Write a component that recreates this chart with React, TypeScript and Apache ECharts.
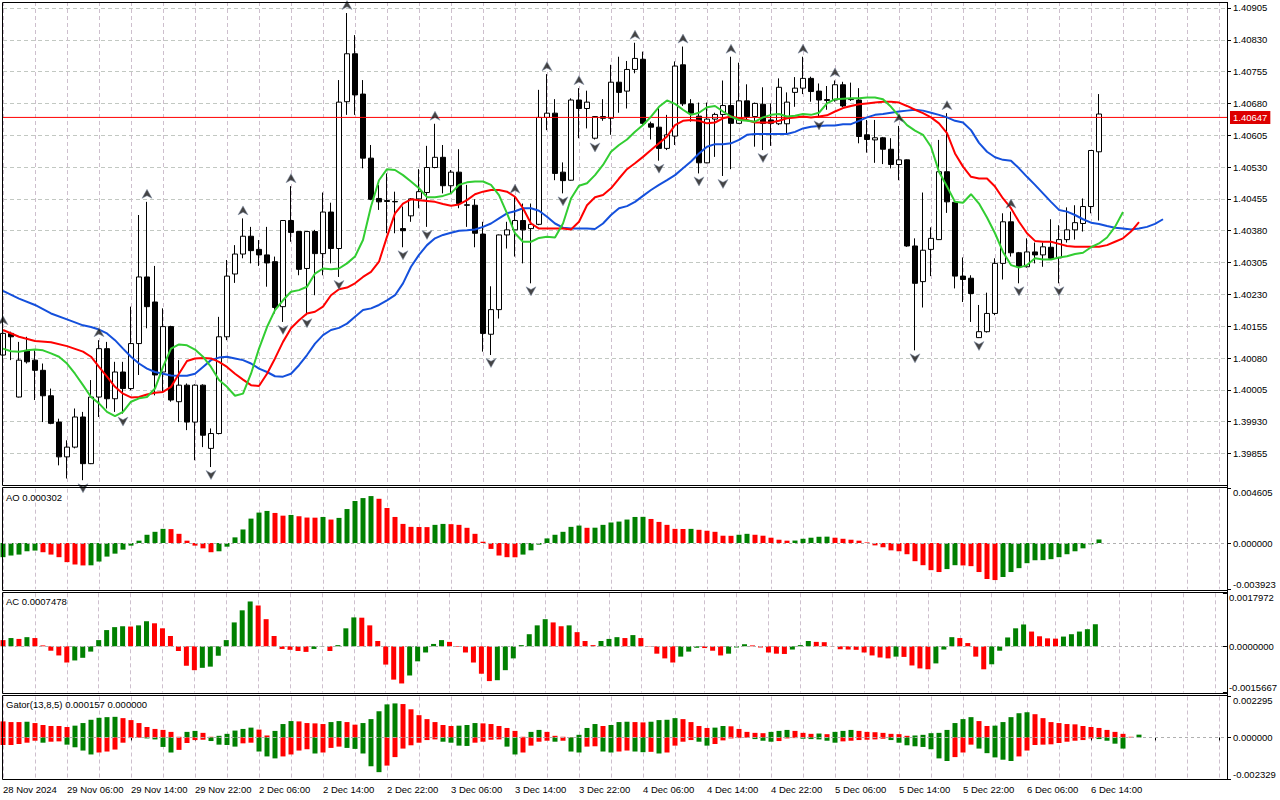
import React, { useEffect, useRef } from 'react';
import * as echarts from 'echarts';

// ---------- DATA ----------
const tickLabels = ['28 Nov 2024', '29 Nov 06:00', '29 Nov 14:00', '29 Nov 22:00', '2 Dec 06:00', '2 Dec 14:00', '2 Dec 22:00', '3 Dec 06:00', '3 Dec 14:00', '3 Dec 22:00', '4 Dec 06:00', '4 Dec 14:00', '4 Dec 22:00', '5 Dec 06:00', '5 Dec 14:00', '5 Dec 22:00', '6 Dec 06:00', '6 Dec 14:00'];

const opens = [
  1.40087, 1.40138, 1.39988, 1.40098, 1.40075, 1.40051, 1.39991, 1.39929, 1.39847, 1.39870,
  1.39941, 1.39831, 1.39988, 1.40102, 1.39984, 1.40047, 1.40008, 1.40114, 1.40271, 1.40212,
  1.40047, 1.40154, 1.39977, 1.40016, 1.39929, 1.40016, 1.39867, 1.39902, 1.40130, 1.40278,
  1.40325, 1.40367, 1.40336, 1.40323, 1.40307, 1.40201, 1.40404, 1.40378, 1.40291, 1.40378,
  1.40326, 1.40424, 1.40338, 1.40684, 1.40797, 1.40702, 1.40551, 1.40456, 1.40451, 1.40449,
  1.40385, 1.40415, 1.40455, 1.40470, 1.40529, 1.40553, 1.40486, 1.40518, 1.40441, 1.40440,
  1.40372, 1.40136, 1.40194, 1.40370, 1.40382, 1.40404, 1.40385, 1.40395, 1.40647, 1.40657,
  1.40518, 1.40499, 1.40688, 1.40668, 1.40598, 1.40649, 1.40645, 1.40730, 1.40709, 1.40760,
  1.40784, 1.40632, 1.40624, 1.40574, 1.40603, 1.40771, 1.40679, 1.40650, 1.40540, 1.40643,
  1.40654, 1.40675, 1.40633, 1.40686, 1.40649, 1.40678, 1.40641, 1.40632, 1.40632, 1.40706,
  1.40716, 1.40739, 1.40709, 1.40689, 1.40688, 1.40724, 1.40690, 1.40688, 1.40606, 1.40594,
  1.40599, 1.40572, 1.40536, 1.40547, 1.40344, 1.40260, 1.40336, 1.40359, 1.40519, 1.40447,
  1.40273, 1.40268, 1.40128, 1.40142, 1.40185, 1.40303, 1.40401, 1.40328, 1.40295, 1.40330,
  1.40323, 1.40341, 1.40316, 1.40359, 1.40382, 1.40397, 1.40437, 1.40566,
];
const highs = [
  1.40150, 1.40142, 1.40118, 1.40130, 1.40098, 1.40067, 1.40008, 1.39937, 1.39886, 1.39961,
  1.39953, 1.40028, 1.40122, 1.40118, 1.40071, 1.40071, 1.40201, 1.40417, 1.40448, 1.40297,
  1.40197, 1.40156, 1.40075, 1.40020, 1.40018, 1.40018, 1.39914, 1.40177, 1.40311, 1.40346,
  1.40409, 1.40389, 1.40358, 1.40389, 1.40319, 1.40405, 1.40485, 1.40379, 1.40379, 1.40382,
  1.40470, 1.40446, 1.40735, 1.40893, 1.40841, 1.40735, 1.40582, 1.40488, 1.40515, 1.40472,
  1.40437, 1.40457, 1.40525, 1.40580, 1.40632, 1.40582, 1.40523, 1.40572, 1.40488, 1.40454,
  1.40401, 1.40249, 1.40371, 1.40401, 1.40460, 1.40444, 1.40444, 1.40712, 1.40749, 1.40690,
  1.40541, 1.40692, 1.40716, 1.40710, 1.40650, 1.40690, 1.40771, 1.40790, 1.40780, 1.40823,
  1.40802, 1.40637, 1.40670, 1.40653, 1.40779, 1.40814, 1.40690, 1.40682, 1.40682, 1.40658,
  1.40734, 1.40790, 1.40776, 1.40725, 1.40682, 1.40718, 1.40680, 1.40739, 1.40706, 1.40742,
  1.40790, 1.40743, 1.40727, 1.40721, 1.40734, 1.40731, 1.40729, 1.40716, 1.40641, 1.40641,
  1.40601, 1.40598, 1.40627, 1.40548, 1.40362, 1.40470, 1.40388, 1.40594, 1.40657, 1.40448,
  1.40317, 1.40275, 1.40205, 1.40234, 1.40315, 1.40421, 1.40425, 1.40330, 1.40362, 1.40352,
  1.40352, 1.40407, 1.40393, 1.40435, 1.40440, 1.40456, 1.40570, 1.40702,
];
const lows = [
  1.40079, 1.40075, 1.39987, 1.40067, 1.39981, 1.39929, 1.39924, 1.39827, 1.39796, 1.39867,
  1.39792, 1.39830, 1.39941, 1.39961, 1.39953, 1.39949, 1.40004, 1.40040, 1.40150, 1.39992,
  1.40000, 1.39977, 1.39929, 1.39910, 1.39839, 1.39870, 1.39823, 1.39900, 1.40122, 1.40257,
  1.40315, 1.40303, 1.40297, 1.40248, 1.40185, 1.40165, 1.40354, 1.40275, 1.40181, 1.40228,
  1.40275, 1.40303, 1.40271, 1.40653, 1.40653, 1.40527, 1.40452, 1.40429, 1.40374, 1.40374,
  1.40341, 1.40401, 1.40433, 1.40389, 1.40527, 1.40468, 1.40468, 1.40433, 1.40389, 1.40341,
  1.40095, 1.40087, 1.40173, 1.40338, 1.40319, 1.40303, 1.40256, 1.40393, 1.40617, 1.40499,
  1.40468, 1.40498, 1.40598, 1.40621, 1.40595, 1.40639, 1.40606, 1.40658, 1.40668, 1.40751,
  1.40629, 1.40595, 1.40545, 1.40570, 1.40582, 1.40674, 1.40637, 1.40515, 1.40539, 1.40554,
  1.40509, 1.40525, 1.40632, 1.40641, 1.40578, 1.40570, 1.40580, 1.40629, 1.40610, 1.40672,
  1.40702, 1.40684, 1.40647, 1.40665, 1.40684, 1.40671, 1.40686, 1.40586, 1.40564, 1.40540,
  1.40537, 1.40527, 1.40499, 1.40342, 1.40098, 1.40199, 1.40273, 1.40358, 1.40422, 1.40244,
  1.40212, 1.40165, 1.40127, 1.40140, 1.40181, 1.40265, 1.40319, 1.40256, 1.40293, 1.40303,
  1.40295, 1.40313, 1.40256, 1.40352, 1.40359, 1.40378, 1.40421, 1.40404,
];
const closes = [
  1.40138, 1.40130, 1.40075, 1.40071, 1.40051, 1.39991, 1.39926, 1.39847, 1.39870, 1.39941,
  1.39831, 1.39988, 1.40102, 1.39984, 1.40047, 1.40008, 1.40114, 1.40271, 1.40201, 1.40040,
  1.40154, 1.39981, 1.40016, 1.39929, 1.40016, 1.39898, 1.39902, 1.40130, 1.40273, 1.40325,
  1.40367, 1.40333, 1.40323, 1.40304, 1.40199, 1.40404, 1.40376, 1.40289, 1.40378, 1.40326,
  1.40424, 1.40338, 1.40683, 1.40797, 1.40700, 1.40551, 1.40454, 1.40448, 1.40449, 1.40448,
  1.40380, 1.40455, 1.40472, 1.40529, 1.40553, 1.40486, 1.40518, 1.40444, 1.40440, 1.40374,
  1.40138, 1.40194, 1.40370, 1.40382, 1.40404, 1.40382, 1.40395, 1.40647, 1.40657, 1.40515,
  1.40498, 1.40688, 1.40668, 1.40683, 1.40649, 1.40645, 1.40730, 1.40706, 1.40760, 1.40786,
  1.40633, 1.40624, 1.40574, 1.40606, 1.40768, 1.40679, 1.40657, 1.40540, 1.40643, 1.40654,
  1.40675, 1.40633, 1.40686, 1.40649, 1.40680, 1.40633, 1.40633, 1.40718, 1.40683, 1.40716,
  1.40739, 1.40708, 1.40688, 1.40687, 1.40724, 1.40674, 1.40689, 1.40602, 1.40595, 1.40599,
  1.40572, 1.40536, 1.40547, 1.40344, 1.40256, 1.40334, 1.40362, 1.40519, 1.40448, 1.40273,
  1.40265, 1.40232, 1.40142, 1.40185, 1.40303, 1.40401, 1.40328, 1.40295, 1.40330, 1.40323,
  1.40342, 1.40315, 1.40359, 1.40382, 1.40399, 1.40437, 1.40569, 1.40655,
];

const upFractals = [0, 12, 18, 30, 36, 43, 54, 64, 68, 72, 79, 85, 91, 100, 104, 112, 118, 126];
const downFractals = [10, 15, 26, 35, 38, 42, 50, 53, 61, 66, 70, 74, 82, 87, 90, 95, 102, 114, 122, 127, 132];

const currentPrice = 1.40647;

// Alligator lines: [bar index, price]
const jaw = [[0,1.40238],[2,1.40220],[4,1.40205],[6,1.40185],[8,1.40171],[10,1.40157],[11,1.40153],[12,1.40147],[13,1.40138],[14,1.40122],[15,1.40102],[16,1.40083],[17,1.40067],[18,1.40055],[19,1.40047],[20,1.40043],[21,1.40039],[22,1.40038],[23,1.40038],[24,1.40043],[25,1.40059],[26,1.40075],[27,1.40081],[28,1.40083],[29,1.40079],[30,1.40075],[31,1.40067],[32,1.40055],[33,1.40047],[34,1.40037],[35,1.40036],[36,1.40043],[37,1.40063],[38,1.40087],[39,1.40114],[40,1.40134],[41,1.40146],[42,1.40151],[43,1.40161],[44,1.40177],[45,1.40193],[46,1.40197],[47,1.40205],[48,1.40216],[49,1.40228],[50,1.40256],[51,1.40295],[52,1.40323],[53,1.40346],[54,1.40362],[55,1.40370],[56,1.40375],[57,1.40380],[58,1.40381],[59,1.40383],[60,1.40389],[61,1.40397],[62,1.40409],[63,1.40421],[64,1.40426],[65,1.40433],[66,1.40433],[67,1.40427],[68,1.40413],[69,1.40397],[70,1.40387],[71,1.40385],[72,1.40385],[73,1.40385],[74,1.40384],[75,1.40397],[76,1.40417],[77,1.40433],[78,1.40438],[79,1.40448],[80,1.40462],[81,1.40476],[82,1.40488],[83,1.40499],[84,1.40511],[85,1.40527],[86,1.40543],[87,1.40562],[88,1.40578],[89,1.40584],[90,1.40584],[91,1.40586],[92,1.40594],[93,1.40606],[94,1.40608],[95,1.40608],[96,1.40608],[97,1.40608],[98,1.40608],[99,1.40613],[100,1.40621],[101,1.40625],[102,1.40627],[103,1.40628],[104,1.40628],[105,1.40631],[106,1.40631],[107,1.40639],[108,1.40647],[109,1.40653],[110,1.40655],[111,1.40658],[112,1.40661],[113,1.40663],[114,1.40665],[115,1.40663],[116,1.40658],[117,1.40653],[118,1.40647],[119,1.40639],[120,1.40635],[121,1.40617],[122,1.40587],[123,1.40566],[124,1.40553],[125,1.40547],[126,1.40545],[127,1.40527],[128,1.40507],[129,1.40488],[130,1.40468],[131,1.40448],[132,1.40429],[133,1.40425],[134,1.40417],[135,1.40407],[136,1.40399],[137,1.40396],[138,1.40391],[139,1.40387],[140,1.40385],[141,1.40383],[142,1.40385],[143,1.40389],[144,1.40396],[145,1.40407]];
const teeth = [[0,1.40146],[2,1.40130],[4,1.40120],[6,1.40117],[8,1.40108],[10,1.40095],[11,1.40083],[12,1.40059],[13,1.40036],[14,1.40012],[15,1.39996],[16,1.39987],[17,1.39988],[18,1.39994],[19,1.39998],[20,1.40000],[21,1.40012],[22,1.40043],[23,1.40073],[24,1.40079],[25,1.40080],[26,1.40079],[27,1.40071],[28,1.40059],[29,1.40043],[30,1.40029],[31,1.40016],[32,1.40014],[33,1.40043],[34,1.40079],[35,1.40118],[36,1.40150],[37,1.40169],[38,1.40185],[39,1.40189],[40,1.40201],[41,1.40228],[42,1.40242],[43,1.40246],[44,1.40256],[45,1.40271],[46,1.40283],[47,1.40307],[48,1.40366],[49,1.40421],[50,1.40444],[51,1.40454],[52,1.40452],[53,1.40450],[54,1.40448],[55,1.40443],[56,1.40439],[57,1.40442],[58,1.40452],[59,1.40466],[60,1.40472],[61,1.40476],[62,1.40476],[63,1.40472],[64,1.40460],[65,1.40433],[66,1.40397],[67,1.40385],[68,1.40385],[69,1.40385],[70,1.40385],[71,1.40383],[72,1.40401],[73,1.40440],[74,1.40459],[75,1.40464],[76,1.40480],[77,1.40503],[78,1.40525],[79,1.40539],[80,1.40554],[81,1.40570],[82,1.40586],[83,1.40602],[84,1.40629],[85,1.40639],[86,1.40641],[87,1.40639],[88,1.40633],[89,1.40635],[90,1.40645],[91,1.40649],[92,1.40645],[93,1.40641],[94,1.40635],[95,1.40635],[96,1.40635],[97,1.40639],[98,1.40645],[99,1.40647],[100,1.40649],[101,1.40647],[102,1.40649],[103,1.40652],[104,1.40661],[105,1.40669],[106,1.40674],[107,1.40678],[108,1.40680],[109,1.40682],[110,1.40684],[111,1.40684],[112,1.40682],[113,1.40674],[114,1.40665],[115,1.40657],[116,1.40647],[117,1.40633],[118,1.40610],[119,1.40562],[120,1.40531],[121,1.40507],[122,1.40503],[123,1.40503],[124,1.40484],[125,1.40456],[126,1.40433],[127,1.40401],[128,1.40374],[129,1.40356],[130,1.40354],[131,1.40354],[132,1.40349],[133,1.40344],[134,1.40342],[135,1.40342],[136,1.40342],[137,1.40342],[138,1.40346],[139,1.40354],[140,1.40362],[141,1.40378],[142,1.40400]];
const lips = [[0,1.40102],[1,1.40096],[2,1.40095],[3,1.40098],[4,1.40100],[5,1.40098],[6,1.40091],[7,1.40083],[8,1.40067],[9,1.40043],[10,1.40016],[11,1.39988],[12,1.39973],[13,1.39953],[14,1.39943],[15,1.39953],[16,1.39977],[17,1.39985],[18,1.39988],[19,1.40008],[20,1.40059],[21,1.40102],[22,1.40112],[23,1.40110],[24,1.40100],[25,1.40083],[26,1.40059],[27,1.40028],[28,1.40012],[29,1.39991],[30,1.39996],[31,1.40043],[32,1.40102],[33,1.40153],[34,1.40193],[35,1.40216],[36,1.40236],[37,1.40240],[38,1.40248],[39,1.40279],[40,1.40291],[41,1.40289],[42,1.40291],[43,1.40303],[44,1.40319],[45,1.40358],[46,1.40437],[47,1.40499],[48,1.40525],[49,1.40523],[50,1.40511],[51,1.40496],[52,1.40480],[53,1.40459],[54,1.40459],[55,1.40462],[56,1.40468],[57,1.40488],[58,1.40494],[59,1.40496],[60,1.40496],[61,1.40488],[62,1.40464],[63,1.40421],[64,1.40374],[65,1.40354],[66,1.40354],[67,1.40363],[68,1.40366],[69,1.40364],[70,1.40397],[71,1.40456],[72,1.40486],[73,1.40492],[74,1.40511],[75,1.40535],[76,1.40566],[77,1.40582],[78,1.40595],[79,1.40613],[80,1.40629],[81,1.40649],[82,1.40672],[83,1.40687],[84,1.40679],[85,1.40665],[86,1.40653],[87,1.40658],[88,1.40671],[89,1.40674],[90,1.40661],[91,1.40649],[92,1.40641],[93,1.40639],[94,1.40637],[95,1.40647],[96,1.40653],[97,1.40655],[98,1.40649],[99,1.40651],[100,1.40655],[101,1.40653],[102,1.40658],[103,1.40680],[104,1.40690],[105,1.40691],[106,1.40692],[107,1.40692],[108,1.40694],[109,1.40694],[110,1.40690],[111,1.40672],[112,1.40650],[113,1.40629],[114,1.40616],[115,1.40606],[116,1.40578],[117,1.40519],[118,1.40484],[119,1.40448],[120,1.40446],[121,1.40466],[122,1.40444],[123,1.40411],[124,1.40374],[125,1.40330],[126,1.40299],[127,1.40293],[128,1.40299],[129,1.40315],[130,1.40312],[131,1.40312],[132,1.40317],[133,1.40320],[134,1.40325],[135,1.40328],[136,1.40341],[137,1.40350],[138,1.40364],[139,1.40389],[140,1.40424]];

const aoValues = [
  -0.00120, -0.00106, -0.00098, -0.00070, -0.00064, -0.00078, -0.00098, -0.00120, -0.00162, -0.00182,
  -0.00190, -0.00189, -0.00157, -0.00115, -0.00090, -0.00056, -0.00022, 0.00020, 0.00070, 0.00095,
  0.00120, 0.00118, 0.00078, 0.00020, -0.00022, -0.00045, -0.00078, -0.00070, -0.00031, 0.00048,
  0.00115, 0.00207, 0.00258, 0.00272, 0.00255, 0.00232, 0.00238, 0.00227, 0.00216, 0.00215,
  0.00221, 0.00199, 0.00213, 0.00288, 0.00356, 0.00381, 0.00398, 0.00375, 0.00297, 0.00221,
  0.00162, 0.00137, 0.00136, 0.00135, 0.00154, 0.00162, 0.00160, 0.00154, 0.00129, 0.00078,
  0.00011, -0.00050, -0.00106, -0.00120, -0.00121, -0.00098, -0.00062, -0.00014, 0.00039, 0.00070,
  0.00095, 0.00137, 0.00148, 0.00129, 0.00130, 0.00154, 0.00174, 0.00182, 0.00199, 0.00221,
  0.00222, 0.00204, 0.00179, 0.00154, 0.00120, 0.00119, 0.00120, 0.00112, 0.00104, 0.00095,
  0.00062, 0.00061, 0.00070, 0.00078, 0.00070, 0.00062, 0.00045, 0.00028, 0.00020, 0.00021,
  0.00036, 0.00045, 0.00053, 0.00054, 0.00045, 0.00036, 0.00028, 0.00020, 0.00005, -0.00020,
  -0.00036, -0.00062, -0.00070, -0.00095, -0.00154, -0.00188, -0.00230, -0.00246, -0.00221, -0.00188,
  -0.00190, -0.00196, -0.00246, -0.00305, -0.00314, -0.00288, -0.00246, -0.00213, -0.00171, -0.00146,
  -0.00145, -0.00137, -0.00120, -0.00095, -0.00070, -0.00045, -0.00011, 0.000302,
];
const acValues = [
  0.00021, 0.00028, 0.00025, 0.00031, 0.00028, 0.00003, -0.00015, -0.00031, -0.00055, -0.00048,
  -0.00039, -0.00018, 0.00021, 0.00055, 0.00065, 0.00068, 0.00067, 0.00071, 0.00085, 0.00078,
  0.00061, 0.00035, -0.00016, -0.00066, -0.00081, -0.00073, -0.00069, -0.00032, 0.00021, 0.00081,
  0.00122, 0.00152, 0.00138, 0.00092, 0.00035, -0.00009, -0.00012, -0.00016, -0.00019, -0.00009,
  -0.00001, -0.00016, 0.00004, 0.00061, 0.00098, 0.00097, 0.00071, 0.00018, -0.00062, -0.00113,
  -0.00126, -0.00099, -0.00051, -0.00021, 0.00008, 0.00021, 0.00015, -0.00002, -0.00021, -0.00055,
  -0.00093, -0.00118, -0.00115, -0.00081, -0.00041, 0.00004, 0.00041, 0.00071, 0.00092, 0.00081,
  0.00068, 0.00071, 0.00048, 0.00018, 0.00004, 0.00018, 0.00025, 0.00031, 0.00028, 0.00038,
  0.00028, -0.00001, -0.00025, -0.00041, -0.00055, -0.00035, -0.00018, -0.00005, -0.00006, -0.00015,
  -0.00031, -0.00025, -0.00004, 0.00007, 0.00003, -0.00004, -0.00021, -0.00025, -0.00026, -0.00011,
  0.00004, 0.00018, 0.00015, 0.00014, -0.00001, -0.00010, -0.00011, -0.00012, -0.00021, -0.00031,
  -0.00038, -0.00041, -0.00035, -0.00036, -0.00065, -0.00075, -0.00078, -0.00058, -0.00011, 0.00031,
  0.00028, 0.00011, -0.00035, -0.00078, -0.00061, -0.00015, 0.00030, 0.00061, 0.00074, 0.00050,
  0.00034, 0.00027, 0.00026, 0.00033, 0.00041, 0.00050, 0.00058, 0.0007478,
];
const gatorUp = [
  0.000899, 0.000862, 0.000862, 0.000881, 0.000807, 0.000697, 0.000642, 0.000642, 0.000587, 0.000661,
  0.000807, 0.000991, 0.001101, 0.001138, 0.001156, 0.001083, 0.000973, 0.000807, 0.000587, 0.000477,
  0.000422, 0.000312, 0.000037, 0.000312, 0.000367, 0.000257, 0.000037, 0.000092, 0.000202, 0.000385,
  0.000477, 0.000551, 0.000440, 0.000110, 0.000367, 0.000752, 0.000918, 0.000899, 0.000807, 0.000789,
  0.000752, 0.000862, 0.000918, 0.000862, 0.000716, 0.000807, 0.001028, 0.001468, 0.001853, 0.001908,
  0.001872, 0.001578, 0.001248, 0.001028, 0.000862, 0.000697, 0.000642, 0.000661, 0.000697, 0.000807,
  0.000789, 0.000752, 0.000642, 0.000532, 0.000367, 0.000037, 0.000312, 0.000422, 0.000312, 0.000092,
  0.000037, 0.000018, 0.000147, 0.000532, 0.000752, 0.000642, 0.000697, 0.000862, 0.000881, 0.000862,
  0.000844, 0.000881, 0.000973, 0.000991, 0.001083, 0.001028, 0.000862, 0.000642, 0.000532, 0.000551,
  0.000642, 0.000624, 0.000477, 0.000312, 0.000257, 0.000239, 0.000312, 0.000367, 0.000422, 0.000367,
  0.000257, 0.000202, 0.000220, 0.000184, 0.000312, 0.000367, 0.000422, 0.000367, 0.000312, 0.000294,
  0.000257, 0.000202, 0.000184, 0.000092, 0.000110, 0.000147, 0.000239, 0.000257, 0.000422, 0.000807,
  0.001028, 0.001138, 0.000918, 0.000642, 0.000661, 0.000862, 0.001138, 0.001358, 0.001413, 0.001303,
  0.001083, 0.000862, 0.000807, 0.000752, 0.000734, 0.000642, 0.000587, 0.000532, 0.000422, 0.000312,
  0.000202, 0.000037, 0.000157,
];
const gatorDown = [
  -0.000422, -0.000422, -0.000367, -0.000294, -0.000184, -0.000294, -0.000239, -0.000220, -0.000404, -0.000551,
  -0.000734, -0.000954, -0.000844, -0.000789, -0.000679, -0.000294, -0.000037, -0.000018, -0.000055, -0.000110,
  -0.000532, -0.000844, -0.000697, -0.000312, -0.000147, -0.000128, -0.000202, -0.000404, -0.000422, -0.000514,
  -0.000330, -0.000294, -0.000789, -0.001064, -0.001174, -0.001064, -0.000954, -0.000734, -0.000661, -0.000899,
  -0.000844, -0.000587, -0.000514, -0.000587, -0.000642, -0.000899, -0.001615, -0.001945, -0.001578, -0.001101,
  -0.000624, -0.000440, -0.000294, -0.000147, -0.000110, -0.000239, -0.000294, -0.000459, -0.000477, -0.000294,
  -0.000239, -0.000128, -0.000110, -0.000514, -0.000954, -0.000844, -0.000459, -0.000239, -0.000184, -0.000239,
  -0.000184, -0.000789, -0.000844, -0.000514, -0.000495, -0.000789, -0.000844, -0.000789, -0.000734, -0.000789,
  -0.000826, -0.000807, -0.000899, -0.000844, -0.000459, -0.000239, -0.000147, -0.000239, -0.000459, -0.000367,
  -0.000165, -0.000055, -0.000037, -0.000018, -0.000092, -0.000184, -0.000239, -0.000202, -0.000055, -0.000037,
  -0.000073, -0.000092, -0.000110, -0.000184, -0.000294, -0.000220, -0.000184, -0.000147, -0.000128, -0.000110,
  -0.000073, -0.000147, -0.000294, -0.000440, -0.000495, -0.000532, -0.000661, -0.001174, -0.001321, -0.001101,
  -0.000844, -0.000404, -0.000624, -0.000881, -0.001119, -0.001248, -0.001321, -0.001064, -0.000734, -0.000422,
  -0.000404, -0.000385, -0.000312, -0.000239, -0.000184, -0.000147, -0.000055, -0.000092, -0.000184, -0.000349,
  -0.000624,
];

const aoRange = [-0.003923, 0.004605];
const acRange = [-0.0015667, 0.0017972];
const gatorRange = [-0.002329, 0.002295];
const priceRange = [1.3978, 1.40919];

// ---------- STYLE ----------
const FONT = 'Liberation Sans, Arial, sans-serif';
const FS = 9.5;
const GREEN = '#008000';
const RED = '#ff0000';
const GRID_V = '#cdbfcd';
const GRID_H = '#c2c8c2';
const N_SLOTS = 154;
const FRACTAL_PATH = 'path://M5,0 L10,10 L5,7 L0,10 Z';

const trendColors = (vals: number[], first: string, rising: (v: number, p: number) => boolean) =>
  vals.map((v, i) => (i === 0 ? first : rising(v, vals[i - 1]) ? GREEN : RED));

function oscAxis(gridIndex: number, range: number[], digits: number) {
  const [mn, mx] = range;
  return {
    type: 'value',
    gridIndex,
    position: 'right',
    min: mn,
    max: mx,
    axisLine: { show: false },
    splitLine: { show: false },
    axisTick: { show: true, length: 4, customValues: [mn, 0, mx], lineStyle: { color: '#000' } },
    axisLabel: {
      customValues: [mn, 0, mx],
      margin: 6,
      color: '#000',
      fontSize: FS,
      fontFamily: FONT,
      formatter: (v: number) => {
        if (Math.abs(v - mx) < 1e-10) return `{t|${mx.toFixed(digits)}}`;
        if (Math.abs(v - mn) < 1e-10) return `{b|${mn.toFixed(digits)}}`;
        return `{m|${(0).toFixed(digits)}}`;
      },
      rich: {
        t: { padding: [8, 0, 0, 0], fontSize: FS, fontFamily: FONT, color: '#000' },
        b: { padding: [0, 0, 10, 0], fontSize: FS, fontFamily: FONT, color: '#000' },
        m: { fontSize: FS, fontFamily: FONT, color: '#000' },
      },
    },
  };
}

const zeroLine = {
  silent: true,
  symbol: ['none', 'none'],
  data: [{ yAxis: 0 }],
  lineStyle: { color: '#b0b0b0', type: [3, 3], width: 1 },
  label: { show: false },
  animation: false,
};

function buildOption() {
  const cats = Array.from({ length: N_SLOTS }, (_, i) => String(i));
  const panes = [
    { top: 2, height: 483.3 },
    { top: 488.7, height: 100.6 },
    { top: 593.3, height: 99.2 },
    { top: 696.5, height: 82.5 },
  ];
  const ohlc = opens.map((o, i) => [o, closes[i], lows[i], highs[i]]);
  const aoColors = trendColors(aoValues, GREEN, (v, p) => v > p);
  const acColors = trendColors(acValues, RED, (v, p) => v > p);
  const guColors = trendColors(gatorUp, RED, (v, p) => v > p);
  const gdColors = trendColors(gatorDown, RED, (v, p) => v < p);
  const bars = (vals: number[], cols: string[]) => vals.map((v, i) => ({ value: v, itemStyle: { color: cols[i] } }));

  const xAxes = panes.map((_, i) => ({
    type: 'category',
    gridIndex: i,
    data: cats,
    boundaryGap: false,
    axisLine: { show: false },
    axisTick: { show: i === 3, interval: 7, length: 3, lineStyle: { color: '#000' } },
    axisLabel: {
      show: i === 3,
      interval: 7,
      align: 'left',
      margin: 5,
      color: '#000',
      fontSize: FS,
      fontFamily: FONT,
      formatter: (v: string) => tickLabels[Number(v) / 8] ?? '',
    },
    splitLine: {
      show: true,
      interval: (idx: number) => idx % 4 === 0,
      lineStyle: { color: GRID_V, type: [4, 3], width: 1 },
    },
  }));

  const yAxes = [
    {
      type: 'value',
      gridIndex: 0,
      position: 'right',
      min: priceRange[0],
      max: priceRange[1],
      interval: 0.00075,
      axisLine: { show: false },
      axisTick: { show: true, length: 4, lineStyle: { color: '#000' } },
      axisLabel: {
        margin: 6,
        showMinLabel: false,
        showMaxLabel: false,
        color: '#000',
        fontSize: FS,
        fontFamily: FONT,
        formatter: (v: number) => v.toFixed(5),
      },
      splitLine: { show: true, lineStyle: { color: GRID_H, type: [4, 3], width: 1 } },
    },
    oscAxis(1, aoRange, 6),
    oscAxis(2, acRange, 7),
    oscAxis(3, gatorRange, 6),
  ];

  const frame = (y: number, h: number) => ({
    type: 'rect',
    silent: true,
    z: 100,
    shape: { x: 2.5, y, width: 1225, height: h },
    style: { fill: 'none', stroke: '#000', lineWidth: 1 },
  });
  const paneText = (text: string, y: number) => ({
    type: 'text',
    silent: true,
    z: 101,
    x: 6,
    y,
    style: { text, fill: '#000', fontSize: FS, fontFamily: FONT, verticalAlign: 'middle', align: 'left' },
  });

  // current-price (bid) line across the whole price axis range, labelled at its right end
  const lastSlot = N_SLOTS - 1;
  const bidLine = [[0, currentPrice], [lastSlot, currentPrice]];

  return {
    animation: false,
    backgroundColor: '#ffffff',
    grid: panes.map((p) => ({ left: 3, right: 53, top: p.top, height: p.height })),
    xAxis: xAxes,
    yAxis: yAxes,
    series: [
      {
        type: 'candlestick',
        name: 'price',
        xAxisIndex: 0,
        yAxisIndex: 0,
        data: ohlc,
        barWidth: 5,
        z: 2,
        itemStyle: { color: '#ffffff', color0: '#000000', borderColor: '#000000', borderColor0: '#000000', borderWidth: 1 },
      },
      {
        type: 'line',
        name: 'Bid',
        xAxisIndex: 0,
        yAxisIndex: 0,
        data: bidLine,
        showSymbol: false,
        symbol: 'none',
        silent: true,
        z: 3,
        clip: false,
        lineStyle: { color: '#ff0000', width: 1 },
        endLabel: {
          show: true,
          distance: 3,
          formatter: () => currentPrice.toFixed(5),
          color: '#ffffff',
          backgroundColor: '#dd0000',
          padding: [2, 3, 1, 3],
          fontSize: FS,
          fontFamily: FONT,
        },
      },
      { type: 'line', name: 'Jaw', xAxisIndex: 0, yAxisIndex: 0, data: jaw, showSymbol: false, symbol: 'none', z: 3, lineStyle: { color: '#1450dc', width: 2 } },
      { type: 'line', name: 'Teeth', xAxisIndex: 0, yAxisIndex: 0, data: teeth, showSymbol: false, symbol: 'none', z: 3, lineStyle: { color: '#ff0000', width: 2 } },
      { type: 'line', name: 'Lips', xAxisIndex: 0, yAxisIndex: 0, data: lips, showSymbol: false, symbol: 'none', z: 3, lineStyle: { color: '#32cd32', width: 2 } },
      {
        type: 'scatter',
        name: 'Fractal up',
        xAxisIndex: 0,
        yAxisIndex: 0,
        data: upFractals.map((i) => [i, highs[i]]),
        symbol: FRACTAL_PATH,
        symbolSize: [10, 9],
        symbolOffset: [0, -8],
        z: 5,
        itemStyle: { color: '#151515', borderColor: '#7f8ea8', borderWidth: 0.6 },
      },
      {
        type: 'scatter',
        name: 'Fractal down',
        xAxisIndex: 0,
        yAxisIndex: 0,
        data: downFractals.map((i) => [i, lows[i]]),
        symbol: FRACTAL_PATH,
        symbolRotate: 180,
        symbolSize: [10, 9],
        symbolOffset: [0, 8],
        z: 5,
        itemStyle: { color: '#151515', borderColor: '#7f8ea8', borderWidth: 0.6 },
      },
      { type: 'bar', name: 'AO', xAxisIndex: 1, yAxisIndex: 1, barWidth: 5, data: bars(aoValues, aoColors), markLine: zeroLine },
      { type: 'bar', name: 'AC', xAxisIndex: 2, yAxisIndex: 2, barWidth: 5, data: bars(acValues, acColors), markLine: zeroLine },
      { type: 'bar', name: 'GatorUp', xAxisIndex: 3, yAxisIndex: 3, barWidth: 5, barGap: '-100%', data: bars(gatorUp, guColors), markLine: zeroLine },
      { type: 'bar', name: 'GatorDown', xAxisIndex: 3, yAxisIndex: 3, barWidth: 5, barGap: '-100%', data: bars(gatorDown, gdColors) },
    ],
    graphic: [
      frame(2.5, 483),
      frame(487.5, 103),
      frame(592.5, 101),
      frame(695.5, 84),
      { type: 'line', silent: true, z: 100, shape: { x1: 1227.5, y1: 2, x2: 1227.5, y2: 780 }, style: { stroke: '#000', lineWidth: 1 } },
      paneText('AO 0.000302', 497),
      paneText('AC 0.0007478', 601.5),
      paneText('Gator(13,8,5) 0.000157 0.000000', 704.5),
    ],
  };
}

export default function App() {
  const ref = useRef<HTMLDivElement>(null);
  useEffect(() => {
    if (!ref.current) return;
    const chart = echarts.init(ref.current, null, { renderer: 'svg' });
    chart.setOption(buildOption() as any);
    return () => chart.dispose();
  }, []);
  return (
    <div
      ref={ref}
      style={{ position: 'fixed', left: 0, top: 0, width: 1280, height: 800, background: '#ffffff' }}
    />
  );
}
